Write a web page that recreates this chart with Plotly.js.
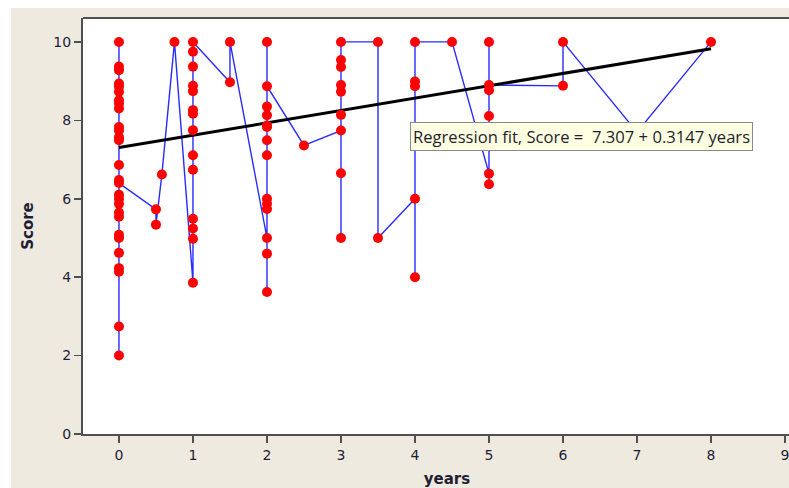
<!DOCTYPE html>
<html>
<head>
<meta charset="utf-8">
<script src="https://cdn.plot.ly/plotly-3.0.1.min.js"></script>
<style>
  html, body { margin: 0; padding: 0; background: #ffffff; overflow: hidden; width: 789px; height: 488px; }
  #chart { position: absolute; left: 11px; top: 8px; width: 800px; height: 480px; }
</style>
</head>
<body>
<div id="chart"></div>
<script>
// Observations in the order they are joined by the blue line
const years = [
  0,0,0,0,0,0,0,0,0,0,0,0,0,0,0,0,0,0,0,0,0,0,0,0,0,0,0,0,
  0.5,0.5,
  0.58,
  0.75,
  1,1,1,1,1,1,1,1,1,1,1,1,1,1,
  1.5,1.5,
  2,2,2,2,2,2,2,2,2,2,2,2,2,2,
  2.5,
  3,3,3,3,3,3,3,3,3,
  3.5,3.5,
  4,4,4,4,4,
  4.5,
  5,5,5,5,5,5,
  6,6,
  7,
  8
];
const score = [
  10,9.37,9.28,8.94,8.86,8.73,8.51,8.43,8.3,7.83,7.74,7.57,7.49,6.86,6.48,6.1,6.0,5.87,5.65,5.54,5.08,5.0,4.62,4.23,4.14,2.74,2.0,6.4,
  5.73,5.34,
  6.62,
  10,
  3.86,4.98,5.24,5.49,6.74,7.11,7.75,8.17,8.26,8.74,8.88,9.37,9.75,10,
  8.97,10,
  5.0,4.6,3.62,5.74,5.87,6.0,7.11,7.49,7.83,7.87,8.13,8.35,10,8.87,
  7.36,
  7.74,6.65,5.0,8.14,8.73,8.9,9.36,9.54,10,
  10,5.0,
  6.0,4.0,8.87,8.99,10,
  10,
  6.64,6.37,8.11,8.77,10,8.9,
  8.88,10,
  7.7,
  10
];

// Regression fit shown on the chart
const fitIntercept = 7.307;
const fitSlope = 0.3147;
const fitYears = [0, 8];
const fitScore = fitYears.map(v => fitIntercept + fitSlope * v);

const xTicks = [0,1,2,3,4,5,6,7,8,9];
const yTicks = [0,2,4,6,8,10];
const fitLabel = 'Regression fit, Score =\u00a0\u00a0' + fitIntercept.toFixed(3) + ' + ' + fitSlope.toFixed(4) + ' years';

const axisColor = '#505050';
const tickFont = { family: 'DejaVu Sans, Verdana, sans-serif', size: 14, color: '#1e1e34' };
const titleFont = { family: 'DejaVu Sans, Verdana, sans-serif', size: 15, color: '#1e1e34', weight: 'bold' };

const traces = [
  {
    x: years, y: score, type: 'scatter', mode: 'lines',
    line: { color: '#2a2aff', width: 1.4 },
    hoverinfo: 'skip', showlegend: false
  },
  {
    x: fitYears, y: fitScore, type: 'scatter', mode: 'lines',
    line: { color: '#000000', width: 3 },
    hoverinfo: 'skip', showlegend: false
  },
  {
    x: years, y: score, type: 'scatter', mode: 'markers',
    marker: { color: '#ff0000', size: 10, line: { width: 0 } },
    hoverinfo: 'skip', showlegend: false
  }
];

const layout = {
  width: 800, height: 480,
  margin: { l: 72, r: 0, t: 10, b: 54 },
  paper_bgcolor: '#eeeadf',
  plot_bgcolor: '#ffffff',
  showlegend: false,
  xaxis: {
    range: [-0.486, 9.351],
    tickvals: xTicks, ticktext: xTicks.map(String),
    ticks: 'outside', ticklen: 7, tickwidth: 1.5, tickcolor: axisColor,
    showline: true, linecolor: axisColor, linewidth: 2,
    showgrid: false, zeroline: false,
    tickfont: tickFont,
    title: { text: 'years', font: titleFont, standoff: 14 }
  },
  yaxis: {
    range: [0, 10.61],
    tickvals: yTicks, ticktext: yTicks.map(String),
    ticks: 'outside', ticklen: 7, tickwidth: 1.5, tickcolor: axisColor,
    showline: true, linecolor: axisColor, linewidth: 2,
    showgrid: false, zeroline: false,
    tickfont: tickFont,
    title: { text: 'Score', font: titleFont, standoff: 16 }
  },
  shapes: [
    { type: 'line', xref: 'paper', yref: 'paper', x0: 0, x1: 1, y0: 1, y1: 1,
      line: { color: axisColor, width: 2 } }
  ],
  annotations: [
    {
      xref: 'x', yref: 'y', x: 3.93, y: 7.6,
      xanchor: 'left', yanchor: 'middle',
      text: fitLabel, showarrow: false,
      font: { family: 'Open Sans, Noto Sans, sans-serif', size: 16.6, color: '#1e1e2e' },
      bgcolor: '#ffffe1', bordercolor: '#8a8a8a', borderwidth: 1, borderpad: 2
    }
  ]
};

Plotly.newPlot('chart', traces, layout, { staticPlot: true, displayModeBar: false });
</script>
</body>
</html>
